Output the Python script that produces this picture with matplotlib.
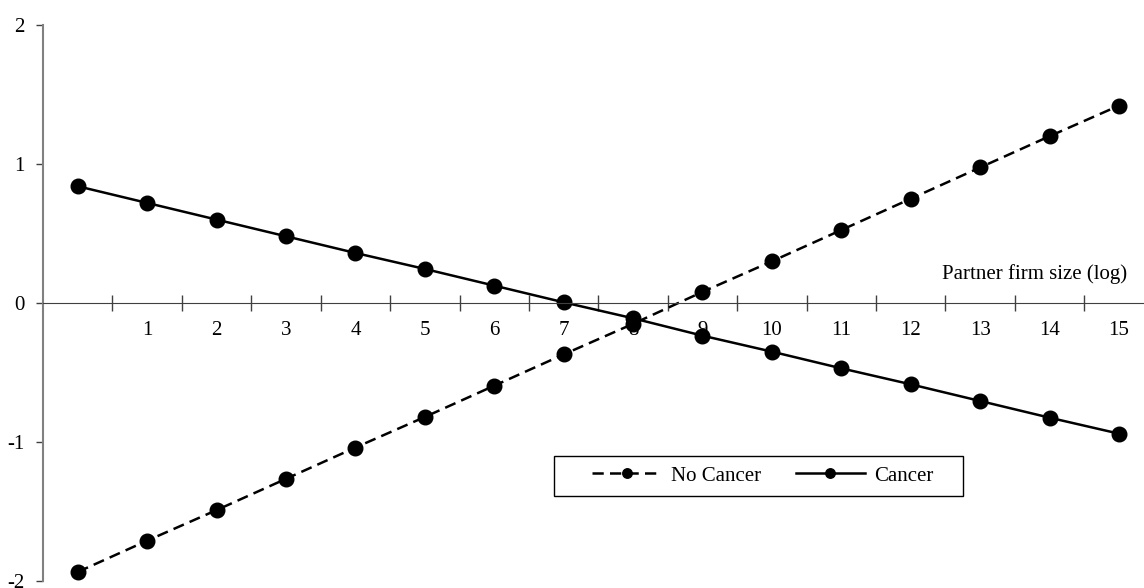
import numpy as np
import matplotlib
matplotlib.use("Agg")
import matplotlib.pyplot as plt
from matplotlib.patches import Rectangle

# partner firm size (log) categories; first category has no label
categories = list(range(16))
tick_labels = [""] + [str(i) for i in range(1, 16)]

no_cancer = [-1.935, -1.71, -1.49, -1.265, -1.04, -0.82, -0.595, -0.37,
             -0.15, 0.08, 0.30, 0.525, 0.75, 0.975, 1.20, 1.42]
cancer = [0.84, 0.72, 0.60, 0.48, 0.36, 0.245, 0.125, 0.005,
          -0.11, -0.235, -0.35, -0.47, -0.585, -0.705, -0.825, -0.94]

plt.rcParams['font.family'] = ['Liberation Serif', 'DejaVu Serif']

W, H = 1144, 588
fig = plt.figure(figsize=(W / 100, H / 100), dpi=100)
ax = fig.add_axes([43 / W, 7 / H, 1 - 43 / W, 556 / H])

x = np.array(categories)
ax.plot(x, no_cancer, linestyle=(0, (4.5, 2.5)), color='black', lw=1.8,
        marker='o', markersize=10.5, label='No Cancer', clip_on=False)
ax.plot(x, cancer, linestyle='-', color='black', lw=1.8,
        marker='o', markersize=10.5, label='Cancer', clip_on=False)

ax.set_xlim(-0.5, 15.36)
ax.set_ylim(-2, 2)

# spines: y axis on left, x axis through zero
for s in ['top', 'right']:
    ax.spines[s].set_visible(False)
ax.spines['bottom'].set_position(('data', 0))
ax.spines['bottom'].set_color('#404040')
ax.spines['left'].set_color('#808080')
ax.spines['left'].set_linewidth(1.5)

ax.set_yticks([-2, -1, 0, 1, 2])
ax.set_yticklabels(['-2', '-1', '0', '1', '2'])
ax.tick_params(axis='y', direction='out', length=5, width=1,
               labelsize=15, color='#404040', pad=8)

# category ticks between points, labels at points
ax.set_xticks(np.arange(-0.5, 15.0, 1.0)[1:])
ax.set_xticks(x, minor=True)
ax.set_xticklabels([])
ax.set_xticklabels(tick_labels, minor=True)
ax.tick_params(axis='x', which='major', direction='inout', length=12,
               width=1, color='#404040')
ax.tick_params(axis='x', which='minor', length=0, labelsize=15, pad=13)

ax.text(0.985, 0.535, 'Partner firm size (log)', transform=ax.transAxes,
        ha='right', va='bottom', fontsize=15)

# legend without its own frame, boxed like the original
leg = ax.legend(loc='center', bbox_to_anchor=(763 / W, 1 - 476 / H),
                bbox_transform=fig.transFigure, ncol=2, frameon=False,
                fontsize=15, handlelength=3.3, handletextpad=0.45,
                columnspacing=1.7, markerscale=0.65)
fig.patches.append(Rectangle((554 / W, 1 - 496 / H), 409 / W, 40 / H,
                             transform=fig.transFigure, fill=False,
                             edgecolor='black', lw=1))

fig.savefig('out.png', dpi=100)
